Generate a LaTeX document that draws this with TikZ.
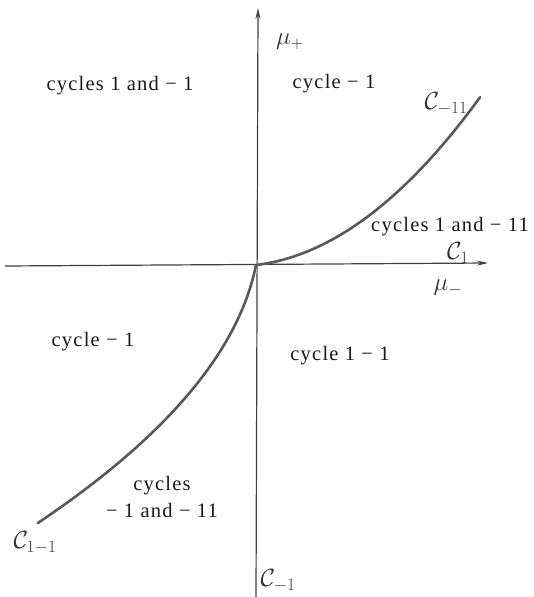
\documentclass[tikz,border=0pt]{standalone}
\usepackage{fontspec}
\setmainfont{Liberation Serif}
\newfontfamily\labfont[LetterSpace=6]{Liberation Serif}
\usetikzlibrary{arrows.meta}
\begin{document}
\begin{tikzpicture}[x=1pt,y=-1pt,
  axis/.style={draw=black!75, line width=1.2pt, -{Stealth[length=11pt,width=5pt]}},
  curve/.style={draw=black!65, line width=2.6pt, line cap=round},
  region/.style={font=\labfont\fontsize{20.5}{25}\selectfont, text=black!90, align=center, inner sep=0pt},
  hand/.style={font=\fontsize{23}{28}\selectfont, text=black!80, inner sep=0pt}]
\useasboundingbox (0,0) rectangle (533,597);
\fill[white] (0,0) rectangle (533,597);
% axes
\coordinate (O) at (256,265);
\coordinate (vb) at (256,597);
\coordinate (vt) at (258,8);
\coordinate (hl) at (5,266);
\coordinate (hr) at (488,263);
\draw[axis] (vb) -- (vt);
\draw[axis] (hl) -- (hr);
% curves
\draw[curve] plot[domain=0:224, samples=60] ({256+\x},{265-0.12*\x-0.0028*\x*\x});
\draw[curve] plot[domain=0:258, samples=60] ({256-0.2*\x-0.0025*\x*\x},{265+\x});
% region labels
\node[region] (r1) at (120,86) {cycles 1 and − 1};
\node[region] (r2) at (334,84) {cycle − 1};
\node[region] (r3) at (450,227) {cycles 1 and − 11};
\node[region] (r4) at (93,342) {cycle − 1};
\node[region] (r5) at (340,356) {cycle 1 − 1};
\node[region] (r6) at (162,497) {cycles\\[2pt]− 1 and − 11};
% handwritten labels
\node[hand] (mp) at (290,42) {$\mu_{+}$};
\node[hand] (mm) at (448,288) {$\mu_{-}$};
\node[hand] (c11) at (446,104) {$\mathcal{C}_{-11}$};
\node[hand] (c1) at (458,253) {$\mathcal{C}_{1}$};
\node[hand] (c1m1) at (35,543) {$\mathcal{C}_{1-1}$};
\node[hand] (cm1) at (278,581) {$\mathcal{C}_{-1}$};
\end{tikzpicture}
\end{document}
